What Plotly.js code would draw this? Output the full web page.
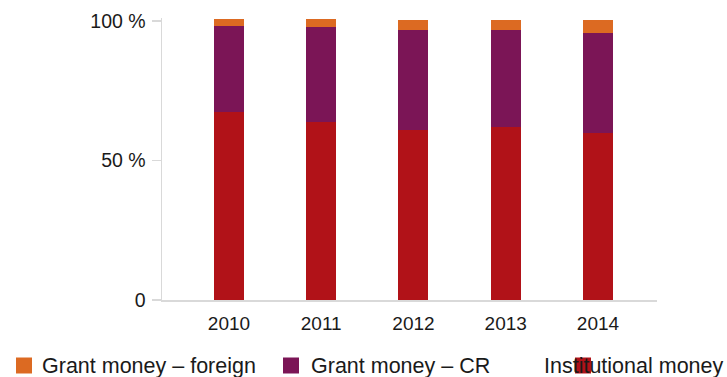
<!DOCTYPE html>
<html>
<head>
<meta charset="utf-8">
<script src="https://cdn.plot.ly/plotly-3.0.1.min.js"></script>
<style>html,body{margin:0;padding:0;background:#fff;overflow:hidden;}#chart{width:727px;height:377px;}</style>
</head>
<body>
<div id="chart"></div>
<script>
const years = ['2010', '2011', '2012', '2013', '2014'];
const institutionalMoney = [67.4, 63.8, 61.0, 61.9, 59.8];
const grantMoneyCR = [30.7, 33.9, 35.7, 34.8, 35.8];
const grantMoneyForeign = [2.5, 2.9, 3.55, 3.55, 4.65];
const yTickValues = [0, 50, 100];
const yTickLabels = ['0', '50 %', '100 %'];

const seriesNames = ['Institutional money', 'Grant money – CR', 'Grant money – foreign'];
const seriesColors = ['#B11218', '#7B1556', '#DC6A22'];
const seriesValues = [institutionalMoney, grantMoneyCR, grantMoneyForeign];

const traces = seriesValues.map((vals, i) => ({
  type: 'bar',
  x: years,
  y: vals,
  name: seriesNames[i],
  width: 0.325,
  marker: {color: seriesColors[i], line: {width: 0}},
  hoverinfo: 'x+y+name'
}));

const font = 'Liberation Sans, Arial, Helvetica, sans-serif';

// plot-area geometry (pixels) used to place the custom legend
const M = {l: 162, r: 70, t: 18, b: 77};
const W = 727, H = 377;
const pw = W - M.l - M.r, ph = H - M.t - M.b;
const px = v => (v - M.l) / pw;
const py = v => (H - M.b - v) / ph;

// legend entries in the reference's order: [series index, swatch left, text left]
const legendItems = [[2, 16, 40], [1, 283, 309], [0, 575, 542]];
const legendY = 365.5, sw = 16;

const shapes = legendItems.map(([si, sx]) => ({
  type: 'rect', xref: 'paper', yref: 'paper', layer: 'above',
  x0: px(sx), x1: px(sx + sw), y0: py(legendY + sw / 2), y1: py(legendY - sw / 2),
  fillcolor: seriesColors[si], line: {width: 0}
}));
const annotations = legendItems.map(([si, sx, tx]) => ({
  xref: 'paper', yref: 'paper', x: px(tx), y: py(legendY),
  xanchor: 'left', yanchor: 'middle', showarrow: false,
  text: seriesNames[si],
  font: {family: font, size: 21.5, color: '#1a1a1a'}
}));

const layout = {
  width: W,
  height: H,
  margin: {l: M.l, r: M.r, t: M.t, b: M.b, pad: 0},
  paper_bgcolor: '#ffffff',
  plot_bgcolor: '#ffffff',
  barmode: 'stack',
  font: {family: font, color: '#1a1a1a', size: 18},
  showlegend: false,
  xaxis: {
    type: 'category',
    range: [-0.726, 4.64],
    showgrid: false,
    zeroline: false,
    showline: true,
    linecolor: '#d9d9d9',
    linewidth: 2,
    ticks: '',
    ticklabelstandoff: 5,
    tickfont: {family: font, size: 19, color: '#1a1a1a'},
    fixedrange: true
  },
  yaxis: {
    range: [0, 101],
    tickvals: yTickValues,
    ticktext: yTickLabels,
    showgrid: false,
    zeroline: false,
    showline: true,
    linecolor: '#d9d9d9',
    linewidth: 1.5,
    ticks: 'outside',
    ticklen: 9,
    tickwidth: 1.5,
    tickcolor: '#d9d9d9',
    ticklabelstandoff: 2,
    tickfont: {family: font, size: 19.5, color: '#1a1a1a'},
    fixedrange: true
  },
  shapes: shapes,
  annotations: annotations
};

Plotly.newPlot('chart', traces, layout, {displayModeBar: false, staticPlot: true});
</script>
</body>
</html>
